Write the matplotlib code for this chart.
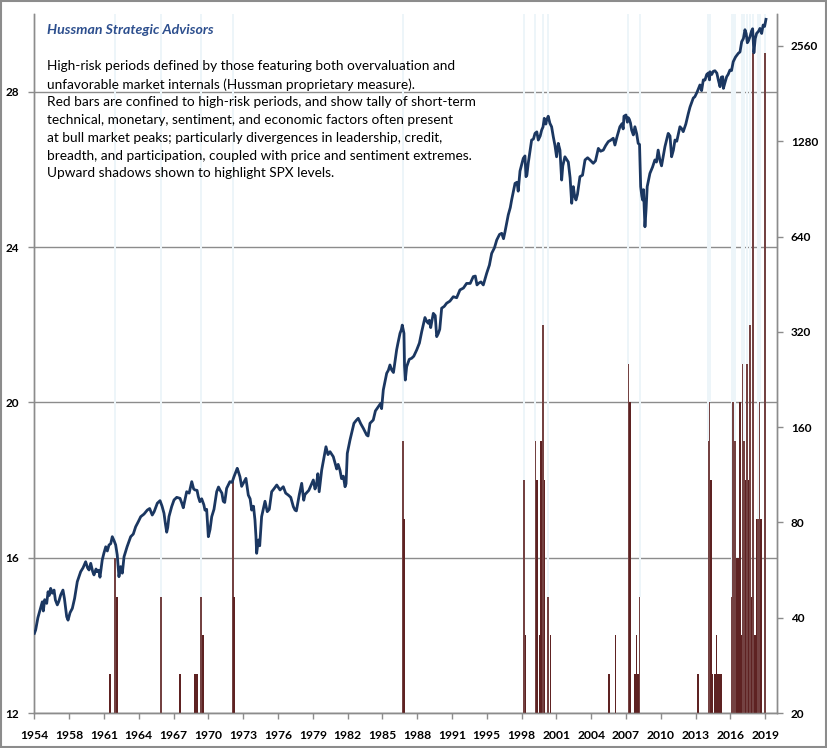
import matplotlib
matplotlib.use("Agg")
import matplotlib.pyplot as plt
from matplotlib.patches import Rectangle
from matplotlib.ticker import NullLocator
import numpy as np

# S&P 500 weekly level (chart time axis)
spx_year = [
    1954.99, 1955.10, 1955.30, 1955.49, 1955.69, 1955.78, 1955.90, 1956.08, 1956.20, 1956.30,
    1956.43, 1956.58, 1956.73, 1956.85, 1957.02, 1957.15, 1957.32, 1957.52, 1957.65, 1957.85,
    1957.97, 1958.15, 1958.35, 1958.55, 1958.79, 1959.09, 1959.30, 1959.53, 1959.70, 1959.83,
    1959.98, 1960.15, 1960.27, 1960.45, 1960.56, 1960.70, 1960.80, 1961.00, 1961.15, 1961.31,
    1961.45, 1961.60, 1961.75, 1961.89, 1962.05, 1962.19, 1962.33, 1962.48, 1962.55, 1962.63,
    1962.78, 1962.93, 1963.20, 1963.52, 1963.75, 1963.96, 1964.20, 1964.41, 1964.70, 1964.99,
    1965.20, 1965.43, 1965.60, 1965.88, 1966.12, 1966.30, 1966.47, 1966.60, 1966.71, 1966.80,
    1966.91, 1967.15, 1967.36, 1967.60, 1967.89, 1968.05, 1968.18, 1968.48, 1968.70, 1968.93,
    1969.10, 1969.22, 1969.40, 1969.51, 1969.65, 1969.81, 1970.00, 1970.10, 1970.25, 1970.40,
    1970.55, 1970.70, 1970.90, 1971.14, 1971.30, 1971.43, 1971.60, 1971.72, 1971.85, 1972.02,
    1972.31, 1972.50, 1972.67, 1972.96, 1973.05, 1973.20, 1973.35, 1973.49, 1973.73, 1973.94,
    1974.10, 1974.24, 1974.40, 1974.53, 1974.62, 1974.68, 1974.75, 1974.83, 1974.95, 1975.12,
    1975.42, 1975.62, 1975.80, 1976.01, 1976.20, 1976.46, 1976.75, 1977.04, 1977.25, 1977.48,
    1977.70, 1977.93, 1978.08, 1978.20, 1978.46, 1978.67, 1978.85, 1978.96, 1979.30, 1979.70,
    1979.85, 1979.99, 1980.10, 1980.22, 1980.44, 1980.82, 1981.00, 1981.18, 1981.47, 1981.60,
    1981.77, 1981.90, 1982.06, 1982.20, 1982.36, 1982.51, 1982.60, 1982.71, 1982.95, 1983.30,
    1983.50, 1983.68, 1983.90, 1984.13, 1984.43, 1984.55, 1984.72, 1985.01, 1985.20, 1985.46,
    1985.67, 1985.75, 1985.90, 1986.20, 1986.35, 1986.49, 1986.64, 1986.80, 1987.08, 1987.20,
    1987.38, 1987.50, 1987.58, 1987.73, 1987.78, 1987.85, 1987.97, 1988.20, 1988.41, 1988.60,
    1988.86, 1989.10, 1989.30, 1989.59, 1989.75, 1989.88, 1989.98, 1990.10, 1990.33, 1990.50,
    1990.63, 1990.77, 1990.90, 1991.07, 1991.30, 1991.51, 1991.80, 1992.10, 1992.40, 1992.69,
    1993.00, 1993.28, 1993.60, 1993.87, 1994.05, 1994.20, 1994.32, 1994.55, 1994.76, 1995.06,
    1995.30, 1995.50, 1995.75, 1995.95, 1996.20, 1996.39, 1996.55, 1996.68, 1996.97, 1997.15,
    1997.27, 1997.57, 1997.75, 1997.85, 1998.01, 1998.30, 1998.45, 1998.54, 1998.62, 1998.74,
    1999.04, 1999.20, 1999.34, 1999.50, 1999.63, 1999.80, 1999.93, 2000.05, 2000.16, 2000.30,
    2000.37, 2000.51, 2000.66, 2000.81, 2000.96, 2001.11, 2001.25, 2001.40, 2001.55, 2001.70,
    2001.80, 2001.99, 2002.15, 2002.29, 2002.45, 2002.59, 2002.73, 2002.85, 2002.97, 2003.10,
    2003.32, 2003.55, 2003.77, 2004.00, 2004.21, 2004.50, 2004.70, 2004.95, 2005.15, 2005.39,
    2005.60, 2005.83, 2006.05, 2006.27, 2006.42, 2006.60, 2006.86, 2007.05, 2007.15, 2007.22,
    2007.40, 2007.52, 2007.60, 2007.70, 2007.80, 2007.90, 2008.05, 2008.19, 2008.35, 2008.48,
    2008.60, 2008.70, 2008.80, 2008.87, 2008.95, 2009.08, 2009.18, 2009.28, 2009.52, 2009.75,
    2009.96, 2010.10, 2010.25, 2010.40, 2010.55, 2010.85, 2011.14, 2011.30, 2011.44, 2011.60,
    2011.74, 2011.90, 2012.18, 2012.35, 2012.47, 2012.70, 2012.91, 2013.07, 2013.36, 2013.50,
    2013.70, 2013.95, 2014.10, 2014.25, 2014.40, 2014.55, 2014.69, 2014.80, 2014.84, 2015.00,
    2015.13, 2015.28, 2015.45, 2015.58, 2015.73, 2015.85, 2015.97, 2016.03, 2016.15, 2016.32,
    2016.45, 2016.61, 2016.75, 2016.90, 2017.10, 2017.35, 2017.50, 2017.65, 2017.80, 2017.94,
    2018.05, 2018.15, 2018.24, 2018.40, 2018.53, 2018.62, 2018.68, 2018.73, 2018.85, 2018.97,
    2019.15, 2019.27, 2019.42, 2019.55, 2019.68, 2019.80,
]
spx_level = [
    35.7, 36.6, 40.0, 42.3, 44.9, 42.0, 45.6, 44.4, 48.3, 47.0,
    49.5, 47.8, 48.9, 45.5, 43.9, 45.0, 47.2, 48.9, 46.0, 40.3,
    39.3, 41.5, 42.8, 46.0, 52.0, 55.9, 57.5, 60.1, 57.5, 56.6,
    59.4, 56.0, 54.6, 57.0, 55.9, 56.5, 53.7, 60.9, 64.0, 67.0,
    65.0, 67.9, 68.5, 72.1, 70.0, 67.9, 63.1, 53.9, 56.0, 58.0,
    55.3, 62.3, 67.0, 72.1, 73.5, 77.5, 80.5, 83.4, 85.0, 87.5,
    88.5, 84.4, 86.5, 92.0, 93.7, 90.0, 85.5, 79.0, 74.5, 77.0,
    83.4, 89.7, 94.2, 96.0, 95.3, 92.0, 89.0, 100.0, 99.0, 107.6,
    102.0, 101.3, 101.0, 96.5, 93.0, 95.0, 91.0, 87.5, 88.0, 72.1,
    76.0, 83.4, 88.0, 100.0, 103.5, 101.3, 99.0, 93.3, 92.5, 102.5,
    107.6, 107.0, 111.5, 118.6, 116.0, 111.5, 104.0, 106.3, 110.2, 97.6,
    95.0, 87.5, 90.0, 81.4, 72.0, 63.9, 67.0, 70.4, 67.5, 83.4,
    93.3, 86.5, 88.0, 100.0, 102.0, 105.0, 101.3, 103.7, 99.0, 97.6,
    96.0, 89.7, 87.5, 87.0, 98.0, 106.3, 94.0, 98.0, 101.0, 108.9,
    102.0, 106.0, 114.0, 100.0, 117.0, 138.7, 131.0, 133.8, 129.0, 124.0,
    118.0, 122.0, 117.0, 110.0, 112.0, 103.7, 106.0, 132.2, 145.7, 164.5,
    168.0, 170.6, 164.0, 158.6, 151.0, 150.0, 164.5, 168.5, 180.0, 185.6,
    190.3, 183.0, 209.7, 236.7, 242.0, 251.4, 242.5, 238.0, 280.5, 295.0,
    316.5, 325.0, 336.0, 316.5, 250.0, 225.3, 248.3, 262.0, 264.0, 268.0,
    280.5, 295.0, 320.0, 355.0, 345.0, 340.6, 348.0, 330.0, 366.0, 360.0,
    309.0, 316.0, 326.0, 380.0, 385.0, 394.0, 400.0, 413.0, 410.0, 434.0,
    440.0, 455.0, 455.0, 478.0, 480.0, 450.0, 455.0, 460.0, 450.0, 490.0,
    520.0, 566.0, 590.0, 624.0, 650.0, 655.0, 630.0, 662.0, 749.0, 790.0,
    835.0, 942.0, 950.0, 890.0, 1030.0, 1130.0, 1150.0, 989.0, 1000.0, 1090.0,
    1291.0, 1300.0, 1355.0, 1370.0, 1291.0, 1330.0, 1388.0, 1420.0, 1512.0, 1450.0,
    1493.0, 1535.0, 1458.0, 1422.0, 1322.0, 1240.0, 1143.0, 1260.0, 1200.0, 965.0,
    1070.0, 1143.0, 1120.0, 1100.0, 980.0, 815.0, 920.0, 860.0, 835.0, 870.0,
    989.0, 1000.0, 1117.0, 1135.0, 1117.0, 1090.0, 1110.0, 1215.0, 1190.0, 1200.0,
    1240.0, 1276.0, 1290.0, 1308.0, 1245.0, 1320.0, 1422.0, 1455.0, 1400.0, 1535.0,
    1549.0, 1470.0, 1520.0, 1500.0, 1460.0, 1388.0, 1340.0, 1422.0, 1350.0, 1260.0,
    1250.0, 920.0, 860.0, 835.0, 900.0, 687.0, 780.0, 920.0, 1013.0, 1060.0,
    1117.0, 1100.0, 1200.0, 1117.0, 1070.0, 1230.0, 1355.0, 1330.0, 1143.0, 1200.0,
    1291.0, 1280.0, 1422.0, 1400.0, 1372.0, 1450.0, 1560.0, 1640.0, 1752.0, 1769.0,
    1830.0, 1927.0, 1850.0, 2000.0, 1998.0, 2080.0, 2102.0, 2000.0, 2121.0, 2080.0,
    2128.0, 2137.0, 2100.0, 1998.0, 1903.0, 2040.0, 2046.0, 1880.0, 1950.0, 2046.0,
    2080.0, 2148.0, 2140.0, 2282.0, 2360.0, 2426.0, 2450.0, 2640.0, 2700.0, 2880.0,
    2800.0, 2620.0, 2651.0, 2750.0, 2858.0, 2900.0, 2650.0, 2435.0, 2700.0, 2803.0,
    2850.0, 2908.0, 2803.0, 2980.0, 2950.0, 3106.0,
]

# red bars: tally of short-term factors during high-risk periods (left axis)
bar_year = [
    1961.66, 1962.17, 1962.30, 1966.24, 1967.92, 1969.25, 1969.42, 1969.78, 1969.91, 1972.57,
    1972.70, 1987.62, 1987.75, 1998.36, 1998.50, 1999.38, 1999.51, 1999.82, 1999.91, 2000.05,
    2000.18, 2000.53, 2000.71, 2005.89, 2006.47, 2007.62, 2007.75, 2008.20, 2008.33, 2008.46,
    2008.60, 2013.78, 2014.71, 2014.80, 2014.93, 2015.06, 2015.29, 2015.42, 2015.55, 2015.68,
    2015.81, 2016.79, 2016.92, 2017.06, 2017.19, 2017.32, 2017.46, 2017.59, 2017.72, 2017.86,
    2017.99, 2018.12, 2018.25, 2018.39, 2018.52, 2018.63, 2018.83, 2018.96, 2019.09, 2019.23,
    2019.36, 2019.70,
]
bar_height = [
    13, 16, 15, 15, 13, 13, 13, 15, 14, 18,
    15, 19, 17, 18, 14, 19, 18, 14, 19, 22,
    18, 15, 14, 13, 14, 21, 20, 13, 14, 13,
    15, 13, 19, 20, 18, 13, 13, 14, 13, 13,
    13, 15, 20, 19, 16, 16, 20, 14, 21, 19,
    18, 21, 18, 22, 15, 29, 14, 17, 17, 20,
    17, 29,
]
# bars that carry an upward shadow
bar_shadow = [
    0, 1, 0, 1, 0, 0, 0, 1, 0, 1,
    0, 1, 0, 1, 0, 1, 0, 0, 0, 1,
    0, 1, 0, 0, 0, 1, 0, 0, 0, 0,
    1, 0, 1, 1, 0, 0, 0, 0, 0, 0,
    0, 1, 1, 1, 0, 0, 0, 0, 1, 1,
    0, 1, 0, 1, 0, 1, 0, 0, 1, 1,
    0, 1,
]

x_labels = ["1954", "1958", "1961", "1964", "1967", "1970", "1973", "1976", "1979", "1982",
            "1985", "1988", "1991", "1995", "1998", "2001", "2004", "2007", "2010", "2013",
            "2016", "2019"]
left_ticks = [12, 16, 20, 24, 28]
right_ticks = [20, 40, 80, 160, 320, 640, 1280, 2560]

notes = [
    "High-risk periods defined by those featuring both overvaluation and",
    "unfavorable market internals (Hussman proprietary measure).",
    "Red bars are confined to high-risk periods, and show tally of short-term",
    "technical, monetary, sentiment, and economic factors often present",
    "at bull market peaks; particularly divergences in leadership, credit,",
    "breadth, and participation, coupled with price and sentiment extremes.",
    "Upward shadows shown to highlight SPX levels.",
]

plt.rcParams["font.family"] = ["Lato", "DejaVu Sans"]
GRAY = "#8c8c8c"

W, H = 827, 748
fig = plt.figure(figsize=(W / 100, H / 100), dpi=100)
ax = fig.add_axes([34.4 / W, 1 - 713 / H, (777 - 34.4) / W, (713 - 14) / H])
ax2 = ax.twinx()

x0, step = 1954.99, 3.083
xmax = x0 + (777 - 34.4) * step / 34.8

bx = np.array(bar_year)
bh = np.array(bar_height, dtype=float)
sh = np.array(bar_shadow, dtype=bool)

# light blue upward shadows
ax.bar(bx[sh], 30 - bh[sh], bottom=bh[sh], width=0.18, color="#edf5f9",
       linewidth=0, zorder=1)
# bars
colors = np.where(sh, "#744242", "#5e2222")
ax.bar(bx, bh - 12, bottom=12, width=0.17, color=colors, linewidth=0, zorder=3)

ax.set_xlim(x0, xmax)
ax.set_ylim(12, 30)
ax.set_yticks(left_ticks)
ax.set_yticklabels([str(t) for t in left_ticks], fontweight="bold", fontsize=8.5)
ax.grid(axis="y", color=GRAY, linewidth=1.0, zorder=0.5)
ax.set_axisbelow(True)

xt = [x0 + step * k for k in range(len(x_labels))]
ax.set_xticks(xt)
ax.set_xticklabels(x_labels, fontweight="bold", fontsize=8.7)
ax.xaxis.set_minor_locator(NullLocator())

# SPX on log right axis
ax2.plot(spx_year, spx_level, color="#1b3761", linewidth=2.0, solid_joinstyle="round",
         zorder=4)
ax2.set_yscale("log", base=2)
ax2.set_ylim(20, 3229)
ax2.set_yticks(right_ticks)
ax2.set_yticklabels([str(t) for t in right_ticks], fontweight="bold", fontsize=8.5)
ax2.yaxis.set_minor_locator(NullLocator())
ax2.set_xlim(x0, xmax)

for a in (ax, ax2):
    a.spines["top"].set_visible(False)
    for s in ("left", "right", "bottom"):
        a.spines[s].set_color(GRAY)
        a.spines[s].set_linewidth(1.0)
    a.tick_params(direction="out", length=4, color=GRAY, width=1.0, labelcolor="black")
ax.tick_params(axis="y", pad=7)
ax.tick_params(axis="x", pad=8)
ax2.tick_params(axis="y", pad=6)

fig.text(47 / W, 1 - 30 / H, "Hussman Strategic Advisors", color="#2d4f8e",
         fontsize=10.2, fontweight="bold", fontstyle="italic", va="center", ha="left")
for i, line in enumerate(notes):
    fig.text(47 / W, 1 - (66.5 + 17.8 * i) / H, line, fontsize=9.8, color="black",
             va="center", ha="left")

fig.patches.append(Rectangle((0.0008, 0.0008), 0.9984, 0.9984, transform=fig.transFigure,
                             fill=False, edgecolor=GRAY, linewidth=1.5))

fig.savefig("out.png", dpi=100)
